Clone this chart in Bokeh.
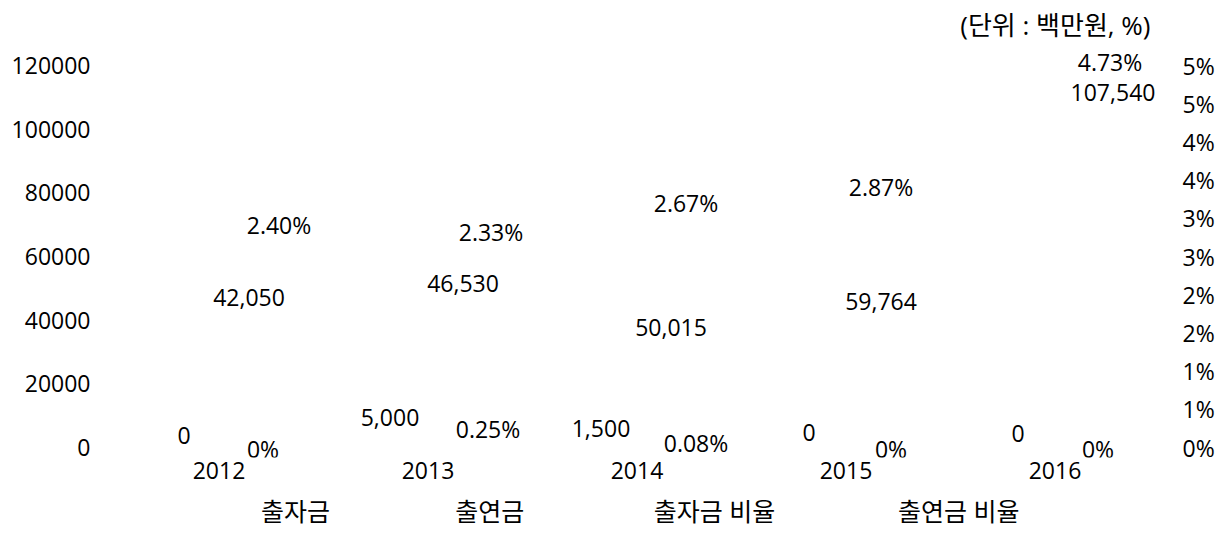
import math
from bokeh.plotting import figure
from bokeh.models import (ColumnDataSource, Range1d, LinearAxis, FixedTicker, BasicTickFormatter)
from bokeh.core.properties import value
from bokeh.embed import file_html
from bokeh.resources import INLINE

# ---------------- data ----------------
years = ["2012", "2013", "2014", "2015", "2016"]
investment = [0, 5000, 1500, 0, 0]                      # 출자금 (백만원)
contribution = [42050, 46530, 50015, 59764, 107540]     # 출연금 (백만원)
investment_ratio = [0.0, 0.25, 0.08, 0.0, 0.0]          # 출자금 비율 (%)
contribution_ratio = [2.40, 2.33, 2.67, 2.87, 4.73]     # 출연금 비율 (%)
series_names = ["출자금", "출연금", "출자금 비율", "출연금 비율"]
left_ticks = [0, 20000, 40000, 60000, 80000, 100000, 120000]
right_ticks = [0, 0.5, 1, 1.5, 2, 2.5, 3, 3.5, 4, 4.5, 5]
unit_note = "(단위 : 백만원, %)"

# ---------------- label placement (pixel offsets, styling only) ----------------
inv_dx = [-35, -38, -36, -37, -37]
inv_dy = [-12, -14, -14, -15, -14]
con_dx = [30, 35, 34, 35, 58]
con_dy = [-16, -16, 39, 44, -13]
ir_dx = [44, 60, 59, 45, 43]
ir_dy = [1, 1, 2, 1, 1]
cr_dx = [60, 63, 49, 35, 55]
cr_dy = [-39, -37, -41, -41, -24]
# legend entry centres on the category axis (slot units)
legend_pos = [0.866, 1.795, 2.871, 4.039]

FONT = "Open Sans, Noto Sans CJK KR"
NUM_SIZE = "23px"

# ---------------- geometry ----------------
FRAME_W, FRAME_H = 1045, 415
TICK_SPAN_PX = 382          # pixels between 0 and top tick
PAD_TOP_PX, PAD_BOT_PX = 23, 10
left_max = left_ticks[-1]
right_max = right_ticks[-1]
y_start = -PAD_BOT_PX / TICK_SPAN_PX * left_max
y_end = left_max + PAD_TOP_PX / TICK_SPAN_PX * left_max
r_start = -PAD_BOT_PX / TICK_SPAN_PX * right_max
r_end = right_max + PAD_TOP_PX / TICK_SPAN_PX * right_max

# category slots: each year occupies one unit, centred at i + 0.5
x_pos = [i + 0.5 for i in range(len(years))]


def fmt_num(v):
    return f"{v:,.0f}"


def fmt_pct(v):
    return "0%" if v == 0 else f"{v:.2f}%"


src = ColumnDataSource(dict(
    x=x_pos,
    x_inv=[x - 0.17 for x in x_pos], x_con=[x + 0.17 for x in x_pos],
    inv=investment, con=contribution, ir=investment_ratio, cr=contribution_ratio,
    inv_t=[fmt_num(v) for v in investment], con_t=[fmt_num(v) for v in contribution],
    ir_t=[fmt_pct(v) for v in investment_ratio], cr_t=[fmt_pct(v) for v in contribution_ratio],
    inv_dx=inv_dx, inv_dy=inv_dy, con_dx=con_dx, con_dy=con_dy,
    ir_dx=ir_dx, ir_dy=ir_dy, cr_dx=cr_dx, cr_dy=cr_dy,
))

p = figure(x_range=Range1d(0, len(years)),
           y_range=Range1d(y_start, y_end),
           frame_width=FRAME_W, frame_height=FRAME_H,
           min_border_left=114, min_border_right=56, min_border_top=42, min_border_bottom=0,
           output_backend="svg", toolbar_location=None, tools="")
p.extra_y_ranges = {"pct": Range1d(r_start, r_end)}
p.outline_line_color = None
p.xgrid.grid_line_color = None
p.ygrid.grid_line_color = None
p.background_fill_color = "white"
p.border_fill_color = "white"

# title (unit note)
p.title.text = unit_note
p.title.align = "right"
p.title.text_font = FONT
p.title.text_font_size = "26px"
p.title.text_font_style = "normal"
p.title.text_color = "#000000"
p.title.standoff = 0
p.title.offset = 9

# category (year) axis
xa = p.xaxis[0]
xa.ticker = FixedTicker(ticks=x_pos)
xa.major_label_overrides = {x: y for x, y in zip(x_pos, years)}
# left axis
ya = p.yaxis[0]
ya.ticker = FixedTicker(ticks=left_ticks)
ya.formatter = BasicTickFormatter(use_scientific=False)
# right axis
ra = LinearAxis(y_range_name="pct", ticker=FixedTicker(ticks=right_ticks))
ra.major_label_overrides = {t: f"{int(math.floor(t + 0.5))}%" for t in right_ticks}
p.add_layout(ra, "right")

# legend row (series names only, the reference shows no legend symbols)
la = LinearAxis(ticker=FixedTicker(ticks=legend_pos))
la.major_label_overrides = {pos: name for pos, name in zip(legend_pos, series_names)}
p.add_layout(la, "below")

for ax in [xa, ya, ra, la]:
    ax.axis_line_color = None
    ax.major_tick_line_color = None
    ax.minor_tick_line_color = None
    ax.major_tick_out = 0
    ax.major_tick_in = 0
    ax.minor_tick_out = 0
    ax.minor_tick_in = 0
    ax.major_label_text_font = FONT
    ax.major_label_text_font_size = NUM_SIZE
    ax.major_label_text_color = "#000000"
ya.major_label_standoff = 24
ra.major_label_standoff = 23
xa.major_label_standoff = 4
la.major_label_text_font_size = "25px"
la.major_label_standoff = 12

# invisible series (the reference shows only labels)
p.vbar(x="x_inv", top="inv", width=0.3, source=src, fill_alpha=0, line_alpha=0)
p.vbar(x="x_con", top="con", width=0.3, source=src, fill_alpha=0, line_alpha=0)
p.line(x="x", y="ir", source=src, y_range_name="pct", line_alpha=0)
p.line(x="x", y="cr", source=src, y_range_name="pct", line_alpha=0)

# data labels
common = dict(source=src, text_font=value(FONT), text_font_size=NUM_SIZE,
              text_color="#000000", text_align="center", text_baseline="middle")
p.text(x="x", y="inv", text="inv_t", x_offset="inv_dx", y_offset="inv_dy", **common)
p.text(x="x", y="con", text="con_t", x_offset="con_dx", y_offset="con_dy", **common)
p.text(x="x", y="ir", text="ir_t", x_offset="ir_dx", y_offset="ir_dy",
       y_range_name="pct", **common)
p.text(x="x", y="cr", text="cr_t", x_offset="cr_dx", y_offset="cr_dy",
       y_range_name="pct", **common)

open("out.html", "w").write(file_html(p, INLINE))
